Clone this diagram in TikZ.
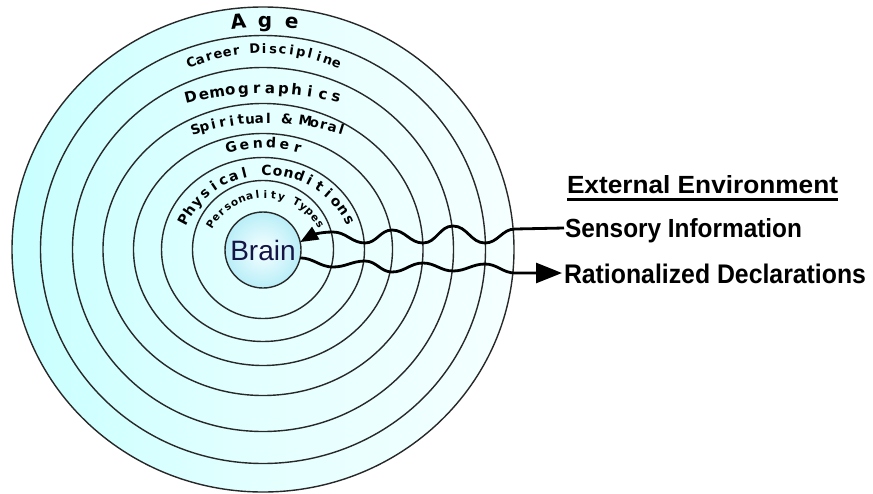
\documentclass[tikz,border=0pt]{standalone}
\usepackage{fontspec}
\setmainfont{Liberation Sans}
\newfontfamily\lblfont{DejaVu Sans}
\usetikzlibrary{arrows.meta}
\definecolor{ringL}{RGB}{200,255,255}
\definecolor{ringM}{RGB}{228,255,255}
\definecolor{ringR}{RGB}{245,255,255}
\definecolor{ringline}{RGB}{40,40,40}
\definecolor{brainIn}{RGB}{246,255,255}
\definecolor{brainOut}{RGB}{185,238,248}
\definecolor{braintext}{RGB}{20,20,70}
\newlength\chw
% #1 name prefix, #2 cx, #3 cy, #4 R, #5 start angle (left), #6 end angle (right), #7 font, #8 characters
\newcommand\arctext[8]{%
  \gdef\totw{0}\gdef\nch{0}%
  \foreach \ch in {#8}{%
    \settowidth\chw{#7\ch}%
    \pgfmathsetmacro\tmpa{\totw+\chw}\xdef\totw{\tmpa}%
    \pgfmathsetmacro\tmpb{\nch+1}\xdef\nch{\tmpb}%
  }%
  \pgfmathsetmacro\arcl{#4*rad(#5-#6)}%
  \pgfmathsetmacro\gapw{(\arcl-\totw)/(\nch-1)}%
  \gdef\posw{0}%
  \foreach \ch [count=\k] in {#8}{%
    \settowidth\chw{#7\ch}%
    \pgfmathsetmacro\sw{\posw+\chw/2}%
    \pgfmathsetmacro\ang{#5-deg(\sw/#4)}%
    \node[arcchar, rotate=\ang-90] (#1\k) at ({#2+#4*cos(\ang)},{#3+#4*sin(\ang)}) {#7\ch};
    \pgfmathsetmacro\tmpc{\posw+\chw+\gapw}\xdef\posw{\tmpc}%
  }%
}
\tikzset{
  ring/.style={draw=ringline, line width=1.4pt},
  arcchar/.style={inner sep=0pt, outer sep=0pt, anchor=base, text=black},
  flow/.style={line width=2.8pt, draw=black},
  sidelabel/.style={inner sep=0pt, outer sep=0pt, anchor=base west},
  brainnode/.style={circle, minimum size=76pt, inner sep=0pt, outer sep=0pt, draw=ringline, line width=1.4pt,
    inner color=brainIn, outer color=brainOut, text=braintext, font=\fontsize{28pt}{28pt}\selectfont}
}
\begin{document}
\begin{tikzpicture}[x=1pt,y=1pt]
\useasboundingbox (0,0) rectangle (873,-493);
\fill[white] (0,0) rectangle (873,-493);
% rings
\shade[left color=ringL, right color=ringR, middle color=ringM] (263,-249.5) ellipse [x radius=251, y radius=242.5];
\draw[ring] (263,-249.5) ellipse [x radius=251, y radius=242.5];
\draw[ring] (263,-249.5) ellipse [x radius=222.5, y radius=214];
\draw[ring] (263,-249.5) ellipse [x radius=190.5, y radius=182];
\draw[ring] (263,-249.5) ellipse [x radius=160, y radius=146];
\draw[ring] (263,-249.5) ellipse [x radius=129.5, y radius=116];
\draw[ring] (263,-249.5) ellipse [x radius=101.5, y radius=92];
\draw[ring] (263,-249.5) ellipse [x radius=70.5, y radius=69];
\node[brainnode] (brain) at (263,-250) {Brain};
% curved labels
\arctext{age}{265}{-257}{230}{96.5}{83.5}{\lblfont\bfseries\fontsize{20pt}{20pt}\selectfont}{A,g,e}
\arctext{car}{264}{-240}{187}{112.3}{67.7}{\lblfont\bfseries\fontsize{13pt}{13pt}\selectfont}{C,a,r,e,e,r,\ ,D,i,s,c,i,p,l,i,n,e}
\arctext{dem}{263.5}{-398.5}{305}{103.56}{76.44}{\lblfont\bfseries\fontsize{15pt}{15pt}\selectfont}{D,e,m,o,g,r,a,p,h,i,c,s}
\arctext{spi}{268.5}{-361}{238}{107.5}{72.5}{\lblfont\bfseries\fontsize{13.5pt}{13.5pt}\selectfont}{S,p,i,r,i,t,u,a,l,\ ,\&,\ ,M,o,r,a,l}
\arctext{gen}{264.5}{-270}{122}{105.2}{74.8}{\lblfont\bfseries\fontsize{14pt}{14pt}\selectfont}{G,e,n,d,e,r}
\arctext{phy}{266.5}{-264}{89}{151.9}{28.1}{\lblfont\bfseries\fontsize{14pt}{14pt}\selectfont}{P,h,y,s,i,c,a,l,\ ,C,o,n,d,i,t,i,o,n,s}
\arctext{per}{265.5}{-259}{61}{147.6}{32.4}{\lblfont\bfseries\fontsize{10.5pt}{10.5pt}\selectfont}{P,e,r,s,o,n,a,l,i,t,y,\ ,T,y,p,e,s}
% side labels
\node[sidelabel] (ext) at (567,-193) {\resizebox{271pt}{18pt}{\bfseries External Environment}};
\draw[line width=2.3pt] ([yshift=-6.5pt]ext.base west) -- ([yshift=-6.5pt]ext.base east);
\node[sidelabel] (sens) at (565,-237) {\resizebox{237pt}{19pt}{\bfseries Sensory Information}};
\node[sidelabel] (rat) at (564,-283) {\resizebox{302pt}{19.5pt}{\bfseries Rationalized Declarations}};
% wave coordinates
\coordinate (sensout) at ([shift={(-1pt,9pt)}]sens.base west);
\coordinate (t0) at (515,-229);
\coordinate (t1) at (485,-243);
\coordinate (t2) at (453,-226);
\coordinate (t3) at (423,-243);
\coordinate (t4) at (392,-230);
\coordinate (t5) at (365,-243);
\coordinate (t6) at (333,-232);
\coordinate (b1) at (333,-267);
\coordinate (b2) at (365,-261);
\coordinate (b3) at (392,-272);
\coordinate (b4) at (423,-263);
\coordinate (b5) at (453,-271);
\coordinate (b6) at (485,-264);
\coordinate (b7) at (515,-273);
\coordinate (ratin) at ([shift={(-2pt,10pt)}]rat.base west);
% connectors
\draw[flow, -{Triangle[length=18pt,width=14pt]}] (sensout) -- (t0)
  to[out=180,in=0] (t1) to[out=180,in=0] (t2) to[out=180,in=0] (t3)
  to[out=180,in=0] (t4) to[out=180,in=0] (t5) to[out=180,in=0] (t6)
  to[out=180,in=30] (brain.12);
\draw[flow, -{Triangle[length=26pt,width=20pt]}] (brain.-12)
  to[out=0,in=180] (b1) to[out=0,in=180] (b2) to[out=0,in=180] (b3)
  to[out=0,in=180] (b4) to[out=0,in=180] (b5) to[out=0,in=180] (b6)
  to[out=0,in=180] (b7) -- (ratin);
\end{tikzpicture}
\end{document}
